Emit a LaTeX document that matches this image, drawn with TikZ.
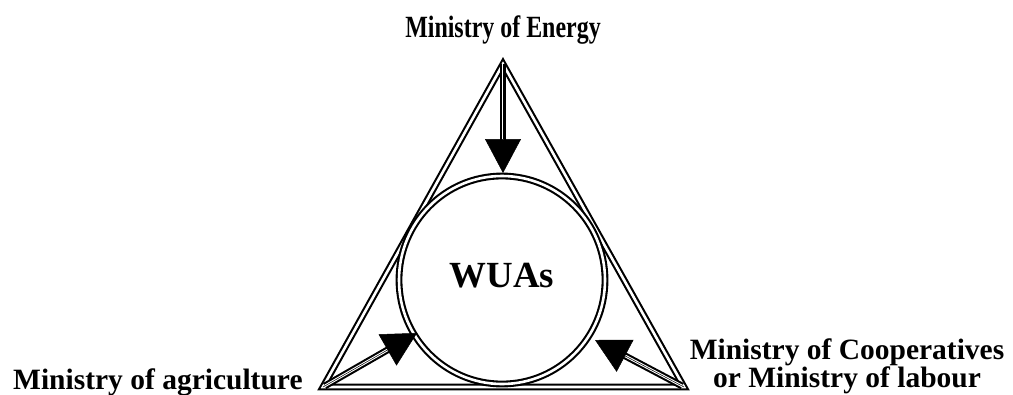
\documentclass[tikz,border=0pt]{standalone}
\usepackage{fontspec}
\setmainfont{Liberation Serif}
\usetikzlibrary{arrows.meta,shapes.geometric}
\begin{document}
\begin{tikzpicture}[x=1bp,y=-1bp,
  dbl/.style={draw=black,double=white,line width=2.1bp,double distance=2.6bp,line join=miter},
  headtip/.style={-{Triangle[length=34bp,width=36bp]},line width=0.5bp},
  lbl/.style={font=\bfseries\fontsize{29.6}{25}\selectfont,inner sep=0pt}]
\useasboundingbox (0,0) rectangle (1013,394);
\coordinate (T) at (503,64);
\coordinate (L) at (323,387);
\coordinate (R) at (684,387);
\coordinate (tT) at (503,173);
\coordinate (tL) at (417,333);
\coordinate (tR) at (595,340);
\draw[dbl] (T) -- (L) -- (R) -- cycle;
\node[dbl,ellipse,minimum width=206bp,minimum height=208bp,inner sep=0pt] (W) at (502,280) {};
\node[font=\bfseries\fontsize{37}{37}\selectfont,inner sep=0pt,anchor=base] (wt) at (502,287) {WUAs};
\draw[dbl,shorten >=30bp] (T) -- (tT);
\draw[headtip] (T) -- (tT);
\draw[dbl,shorten >=30bp,shorten <=2bp] (L) -- (tL);
\draw[headtip] (L) -- (tL);
\draw[dbl,shorten >=30bp,shorten <=2bp] (R) -- (tR);
\draw[headtip] (R) -- (tR);
\node[font=\bfseries\fontsize{31}{31}\selectfont,inner sep=0pt,anchor=base] (e) at (503,37) {\scalebox{0.775}[1]{Ministry of Energy}};
\node[lbl,anchor=base west] (a) at (13,389) {Ministry of agriculture};
\node[lbl,align=center,anchor=south] (c) at (847,394.4) {Ministry of Cooperatives\\or Ministry of labour};
\end{tikzpicture}
\end{document}
